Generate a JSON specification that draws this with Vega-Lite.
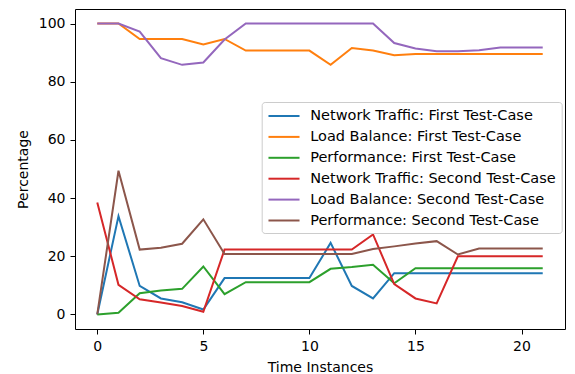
{
  "$schema": "https://vega.github.io/schema/vega-lite/v6.json",
  "autosize": "none",
  "width": 490,
  "height": 320,
  "padding": {"left": 75, "top": 9, "right": 10, "bottom": 45},
  "datasets": {
    "series": [
      {"s": "Network Traffic: First Test-Case", "v": [0, 33.8, 9.8, 5.5, 4.2, 1.7, 12.5, 12.5, 12.5, 12.5, 12.5, 24.6, 9.8, 5.5, 14.2, 14.2, 14.2, 14.2, 14.2, 14.2, 14.2, 14.2]},
      {"s": "Load Balance: First Test-Case", "v": [100, 100, 94.7, 94.7, 94.7, 92.8, 94.7, 90.7, 90.7, 90.7, 90.7, 85.8, 91.6, 90.7, 89.1, 89.5, 89.5, 89.5, 89.5, 89.5, 89.5, 89.5]},
      {"s": "Performance: First Test-Case", "v": [0, 0.6, 7.3, 8.2, 8.8, 16.5, 7.0, 11.1, 11.1, 11.1, 11.1, 15.7, 16.3, 17.1, 10.7, 15.9, 15.9, 15.9, 15.9, 15.9, 15.9, 15.9]},
      {"s": "Network Traffic: Second Test-Case", "v": [38.5, 10.2, 5.2, 4.1, 2.9, 0.9, 22.3, 22.3, 22.3, 22.3, 22.3, 22.3, 22.3, 27.5, 10.4, 5.5, 3.8, 20.0, 20.0, 20.0, 20.0, 20.0]},
      {"s": "Load Balance: Second Test-Case", "v": [100, 100, 97.2, 88.1, 85.8, 86.6, 94.5, 100, 100, 100, 100, 100, 100, 100, 93.3, 91.4, 90.5, 90.5, 90.8, 91.8, 91.8, 91.8]},
      {"s": "Performance: Second Test-Case", "v": [0, 49.4, 22.3, 22.9, 24.3, 32.7, 20.8, 20.8, 20.8, 20.8, 20.8, 20.8, 20.8, 22.5, 23.4, 24.4, 25.2, 20.6, 22.7, 22.7, 22.7, 22.7]}
    ]
  },
  "data": {"name": "series"},
  "transform": [
    {"flatten": ["v"], "as": ["v"]},
    {"window": [{"op": "row_number", "as": "rn"}], "groupby": ["s"]},
    {"calculate": "datum.rn - 1", "as": "x"}
  ],
  "mark": {"type": "line", "strokeWidth": 2, "clip": true},
  "encoding": {
    "x": {
      "field": "x", "type": "quantitative", "title": "Time Instances",
      "scale": {"domain": [-1.05, 22.05], "nice": false, "zero": false},
      "axis": {"values": [0, 5, 10, 15, 20], "format": "d"}
    },
    "y": {
      "field": "v", "type": "quantitative", "title": "Percentage",
      "scale": {"domain": [-5, 105], "nice": false},
      "axis": {"values": [0, 20, 40, 60, 80, 100], "format": "d"}
    },
    "color": {
      "field": "s", "type": "nominal",
      "scale": {
        "domain": ["Network Traffic: First Test-Case", "Load Balance: First Test-Case", "Performance: First Test-Case", "Network Traffic: Second Test-Case", "Load Balance: Second Test-Case", "Performance: Second Test-Case"],
        "range": ["#1f77b4", "#ff7f0e", "#2ca02c", "#d62728", "#9467bd", "#8c564b"]
      },
      "legend": {
        "title": null, "orient": "none", "legendX": 186.7, "legendY": 93,
        "symbolType": "M-2.07,0H2.07", "symbolSize": 225, "symbolStrokeWidth": 2,
        "symbolOffset": 8.3,
        "labelFontSize": 14.5, "labelFont": "DejaVu Sans", "labelColor": "#000",
        "labelLimit": 400, "labelOffset": 17.7, "rowPadding": 5.9,
        "padding": 5.5, "strokeColor": "#cccccc", "fillColor": "rgba(255,255,255,0.8)", "cornerRadius": 3
      }
    },
    "detail": {"field": "s"}
  },
  "config": {
    "font": "DejaVu Sans",
    "view": {"stroke": "#000", "strokeWidth": 1},
    "axis": {
      "grid": false, "domain": false, "ticks": true, "tickSize": 5, "tickColor": "#000",
      "labelFontSize": 14, "labelColor": "#000", "labelPadding": 5,
      "titleFontSize": 14, "titleFontWeight": "normal", "titleColor": "#000"
    },
    "axisY": {"titlePadding": 8},
    "axisX": {"titlePadding": 7}
  }
}
